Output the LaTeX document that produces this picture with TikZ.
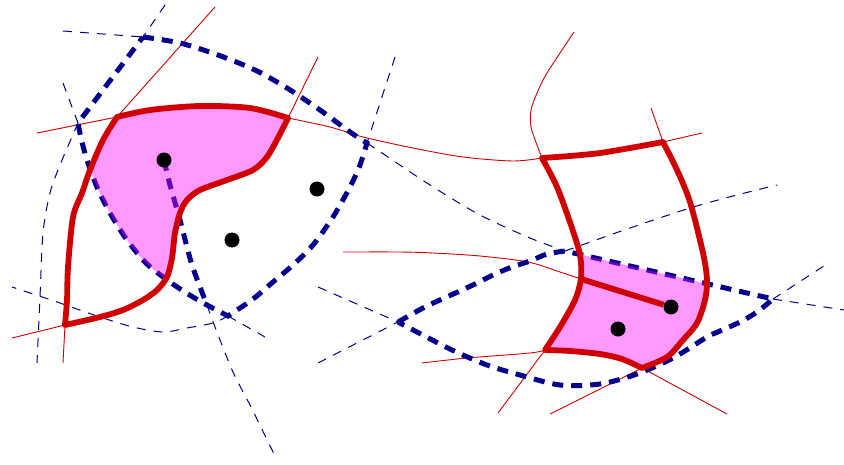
\documentclass[tikz,border=0pt]{standalone}
\definecolor{nblue}{RGB}{0,0,140}
\definecolor{dred}{RGB}{208,0,0}
\definecolor{pinkbase}{RGB}{255,0,255}
\tikzset{
 thinred/.style={draw=dred, line width=0.9pt},
 thickred/.style={draw=dred, line width=5.8pt, line join=round},
 thinblue/.style={draw=nblue, line width=1pt, dash pattern=on 9pt off 8pt},
 thickblue/.style={draw=nblue, line width=5pt, dash pattern=on 11pt off 8pt},
 pinkfill/.style={fill=pinkbase, fill opacity=0.4},
 dot/.style={circle, fill=black, inner sep=0pt, minimum size=15pt},
}
\begin{document}
\begin{tikzpicture}[x=1pt,y=-1pt]
\useasboundingbox (0,0) rectangle (844,464);
% vertices
\coordinate (A) at (143,37);
\coordinate (B) at (367,143);
\coordinate (C) at (228,316);
\coordinate (V) at (207,305);
\coordinate (D) at (78,123);
\coordinate (E) at (565,251);
\coordinate (F) at (398,322);
\coordinate (G) at (773,299);
\coordinate (P1) at (117,117);
\coordinate (P2) at (288,118);
\coordinate (P3) at (65,325);
\coordinate (Q1) at (542,158);
\coordinate (Q2) at (663,142);
\coordinate (Q3) at (642,368);
\coordinate (Q4) at (545,350);

% thin blue dashed lines
\draw[thinblue] (63,31) -- (A);
\draw[thinblue] (165,5) -- (A);
\draw[thinblue] plot[smooth] coordinates {(78,123) (72,137) (60,165) (50,193) (43,233) (40,297) (37,363)};
\draw[thinblue] (63,83) -- (D);
\draw[thinblue] (395,57) -- (B);
\draw[thinblue] plot[smooth] coordinates {(367,143) (382,153) (430,185) (480,215) (530,238) (565,251)};
\draw[thinblue] plot[smooth] coordinates {(228,316) (213,323) (187,328) (163,332) (133,327) (100,317) (57,302) (30,293) (12,287)};
\draw[thinblue] (C) -- (265,337);
\draw[thinblue] plot[smooth] coordinates {(207,305) (215,327) (233,372) (251,407) (276,458)};
\draw[thinblue] (318,287) -- (F);
\draw[thinblue] (318,363) -- (F);
\draw[thinblue] plot[smooth] coordinates {(565,251) (630,228) (690,208) (733,196) (777,185)};
\draw[thinblue] (G) -- (830,262);
\draw[thinblue] (G) -- (844,310);

% thin red lines
\draw[thinred] (37,133) -- (P1);
\draw[thinred] (P1) -- (215,7);
\draw[thinred] (P2) -- (318,57);
\draw[thinred] plot[smooth] coordinates {(288,118) (330,127) (363,137) (413,148) (463,157) (513,161) (542,158)};
\draw[thinred] (P3) -- (12,338);
\draw[thinred] (P3) -- (63,363);
\draw[thinred] plot[smooth] coordinates {(542,158) (537,145) (531,127) (531,110) (537,93) (547,73) (574,32)};
\draw[thinred] (Q2) -- (651,108);
\draw[thinred] (Q2) -- (702,133);
\draw[thinred] (Q3) -- (727,414);
\draw[thinred] (Q3) -- (550,414);
\draw[thinred] plot[smooth] coordinates {(545,350) (530,353) (467,358) (422,363)};
\draw[thinred] (Q4) -- (498,413);
\draw[thinred] plot[smooth] coordinates {(343,252) (400,252) (433,253) (480,256) (528,262) (560,272) (581,279)};

% thick blue dashed cells
\draw[thickblue] plot[smooth] coordinates {(143,37) (180,43) (218,55) (255,70) (287,88) (320,110) (350,132) (367,143)}
 -- plot[smooth] coordinates {(367,143) (360,165) (350,187) (333,217) (313,245) (293,265) (273,282) (253,299) (228,316)}
 -- plot[smooth] coordinates {(228,316) (207,305) (188,294) (170,282) (147,264) (127,240) (110,213) (97,187) (87,160) (81,138) (78,123)}
 -- cycle;
\draw[thickblue] plot[smooth] coordinates {(164,160) (170,185) (180,220) (192,265) (207,305)};
\draw[thickblue] plot[smooth] coordinates {(398,322) (423,308) (442,299) (460,291) (477,283) (495,274) (512,267) (530,261) (547,254) (565,251)}
 -- (G)
 -- plot[smooth] coordinates {(773,299) (757,312) (740,322) (720,331) (707,337) (673,358) (637,374) (600,384) (560,385) (520,375) (487,365) (452,350) (417,332) (398,322)}
 -- cycle;

% pink fills
\begin{scope}
\clip plot[smooth] coordinates {(143,37) (180,43) (218,55) (255,70) (287,88) (320,110) (350,132) (367,143)}
 -- plot[smooth] coordinates {(367,143) (360,165) (350,187) (333,217) (313,245) (293,265) (273,282) (253,299) (228,316)}
 -- plot[smooth] coordinates {(228,316) (207,305) (188,294) (170,282) (147,264) (127,240) (110,213) (97,187) (87,160) (81,138) (78,123)}
 -- cycle;
\fill[pinkfill] plot[smooth] coordinates {(117,117) (150,110) (200,106) (250,108) (288,118)}
 -- plot[smooth] coordinates {(288,118) (280,134) (267,157) (253,170) (227,180) (200,190) (187,200) (180,213) (175,233) (172,258) (167,277) (157,290) (143,300) (123,310) (100,317) (65,325)}
 -- plot[smooth] coordinates {(65,325) (67,300) (68,267) (73,217) (82,193) (90,170) (103,140) (117,117)}
 -- cycle;
\end{scope}
\begin{scope}
\clip plot[smooth] coordinates {(398,322) (423,308) (442,299) (460,291) (477,283) (495,274) (512,267) (530,261) (547,254) (565,251)}
 -- (G)
 -- plot[smooth] coordinates {(773,299) (757,312) (740,322) (720,331) (707,337) (673,358) (637,374) (600,384) (560,385) (520,375) (487,365) (452,350) (417,332) (398,322)}
 -- cycle;
\fill[pinkfill] plot[smooth] coordinates {(542,158) (570,156) (600,153) (630,148) (663,142)}
 -- plot[smooth] coordinates {(663,142) (677,170) (690,202) (703,253) (707,280) (705,300) (697,323) (683,340) (667,357) (642,368)}
 -- plot[smooth] coordinates {(642,368) (622,359) (600,354) (570,351) (545,350)}
 -- plot[smooth] coordinates {(545,350) (560,327) (575,300) (581,278) (580,255) (572,228) (557,187) (542,158)}
 -- cycle;
\end{scope}

% thick red shapes
\draw[thickred] plot[smooth] coordinates {(117,117) (150,110) (200,106) (250,108) (288,118)}
 -- plot[smooth] coordinates {(288,118) (280,134) (267,157) (253,170) (227,180) (200,190) (187,200) (180,213) (175,233) (172,258) (167,277) (157,290) (143,300) (123,310) (100,317) (65,325)}
 -- plot[smooth] coordinates {(65,325) (67,300) (68,267) (73,217) (82,193) (90,170) (103,140) (117,117)}
 -- cycle;
\draw[thickred] plot[smooth] coordinates {(542,158) (570,156) (600,153) (630,148) (663,142)}
 -- plot[smooth] coordinates {(663,142) (677,170) (690,202) (703,253) (707,280) (705,300) (697,323) (683,340) (667,357) (642,368)}
 -- plot[smooth] coordinates {(642,368) (622,359) (600,354) (570,351) (545,350)}
 -- plot[smooth] coordinates {(545,350) (560,327) (575,300) (581,278) (580,255) (572,228) (557,187) (542,158)}
 -- cycle;

% dots
\node[dot] (d1) at (164,160) {};
\node[dot] (d2) at (317,189) {};
\node[dot] (d3) at (232,240) {};
\node[dot] (d4) at (618,329) {};
\node[dot] (d5) at (671,307) {};
\draw[thickred] (581,279) -- (d5);
\end{tikzpicture}
\end{document}
